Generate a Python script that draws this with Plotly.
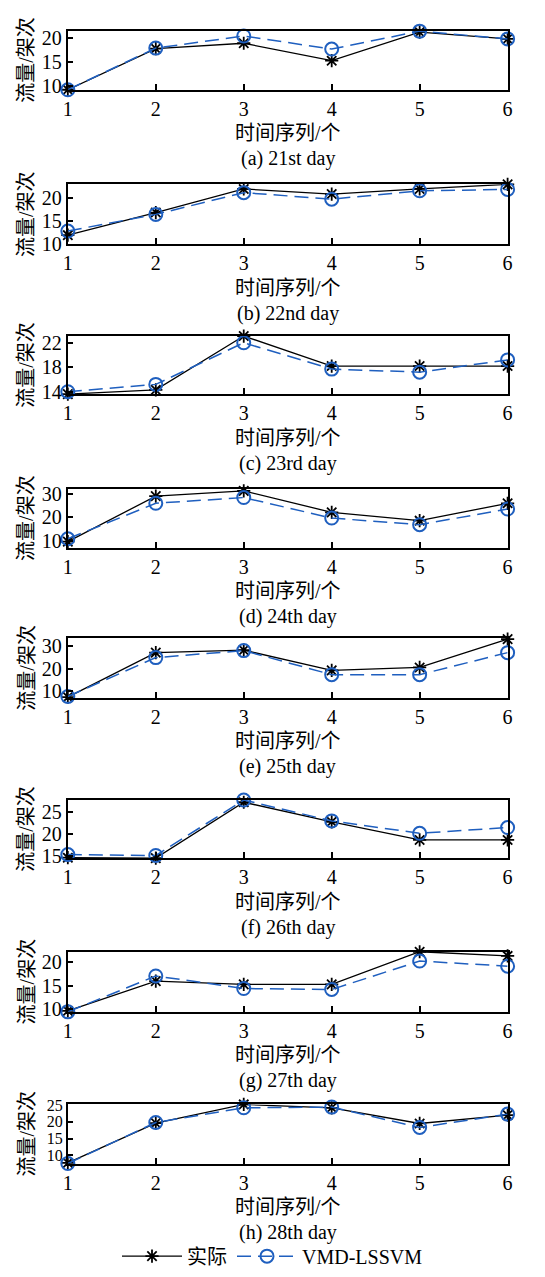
import plotly.graph_objects as go

# ---------------- data ----------------
x_steps = [1, 2, 3, 4, 5, 6]

captions = ["(a) 21st day", "(b) 22nd day", "(c) 23rd day", "(d) 24th day",
            "(e) 25th day", "(f) 26th day", "(g) 27th day", "(h) 28th day"]

actual_a = [9.3, 17.8, 18.9, 15.3, 21.2, 19.8]
pred_a = [9.3, 17.9, 20.4, 17.7, 21.4, 19.8]

actual_b = [12.0, 16.9, 22.0, 20.9, 22.0, 23.0]
pred_b = [12.9, 16.5, 21.2, 19.8, 21.6, 21.9]

actual_c = [13.6, 14.3, 23.1, 18.2, 18.2, 18.2]
pred_c = [14.0, 15.2, 22.0, 17.7, 17.2, 19.2]

actual_d = [9.8, 28.9, 31.1, 22.1, 18.6, 25.9]
pred_d = [11.0, 25.9, 28.3, 19.7, 16.9, 23.5]

actual_e = [7.3, 27.1, 28.2, 19.2, 20.5, 33.1]
pred_e = [7.6, 24.9, 28.0, 17.3, 17.3, 27.1]

actual_f = [14.7, 14.6, 27.2, 22.8, 18.7, 18.7]
pred_f = [15.4, 15.2, 27.7, 23.0, 20.2, 21.5]

actual_g = [9.6, 16.0, 15.3, 15.3, 22.3, 21.4]
pred_g = [9.4, 17.1, 14.4, 14.2, 20.3, 19.2]

actual_h = [7.7, 19.6, 25.2, 24.2, 19.5, 22.0]
pred_h = [7.5, 19.8, 24.2, 24.4, 18.3, 22.3]

y_ranges = [[9.3, 21.5], [10, 23], [13.6, 23.1], [7.2, 32],
            [7.1, 33.4], [14.6, 27.7], [9.4, 22.3], [7.5, 25.2]]
y_ticks = [[10, 15, 20], [10, 15, 20], [14, 18, 22], [10, 20, 30],
           [10, 20, 30], [15, 20, 25], [10, 15, 20], [10, 15, 20, 25]]

actual_all = [actual_a, actual_b, actual_c, actual_d, actual_e, actual_f, actual_g, actual_h]
pred_all = [pred_a, pred_b, pred_c, pred_d, pred_e, pred_f, pred_g, pred_h]

# ---------------- layout geometry (pixels) ----------------
W, H = 545, 1277
x_left, x_right = 64, 512
tops = [23, 179, 333, 488, 640, 804, 958, 1113]
bottoms = [83, 240, 392, 548, 700, 863, 1019, 1173]
ytick_sizes = [20, 20, 20, 20, 20, 20, 20, 16]

FONT = "Liberation Serif, 'Noto Sans CJK SC', serif"
FS = 20
BLUE = "#1f5fbf"


def py(p):
    return 1 - p / H


fig = go.Figure()
layout = dict(
    width=W, height=H,
    margin=dict(l=0, r=0, t=0, b=0),
    paper_bgcolor="white", plot_bgcolor="white",
    font=dict(family=FONT, size=FS, color="black"),
    showlegend=True,
    legend=dict(orientation="h", x=0.5, xanchor="center", y=py(1267), yanchor="middle",
                font=dict(family=FONT, size=FS, color="black"), itemwidth=60,
                bgcolor="rgba(0,0,0,0)"),
)
annotations = []

for i in range(8):
    k = "" if i == 0 else str(i + 1)
    xa, ya = "x" + k, "y" + k
    fig.add_trace(go.Scatter(
        x=x_steps, y=actual_all[i], xaxis=xa, yaxis=ya, mode="lines+markers",
        name="实际", showlegend=(i == 0), cliponaxis=False,
        line=dict(color="black", width=1.3),
        marker=dict(symbol="asterisk-open", size=11, color="black",
                    line=dict(color="black", width=1.8)),
    ))
    fig.add_trace(go.Scatter(
        x=x_steps, y=pred_all[i], xaxis=xa, yaxis=ya, mode="lines+markers",
        name="VMD-LSSVM", showlegend=(i == 0), cliponaxis=False,
        line=dict(color=BLUE, width=1.5, dash="14px,7px"),
        marker=dict(symbol="circle-open", size=13, color=BLUE,
                    line=dict(color=BLUE, width=2)),
    ))
    layout["xaxis" + k] = dict(
        domain=[x_left / W, x_right / W], anchor=ya, range=[1, 6],
        tickvals=x_steps, ticks="inside", ticklen=6, tickwidth=1.5, tickcolor="black",
        showline=True, linewidth=2, linecolor="black", mirror=True,
        showgrid=False, zeroline=False,
        tickfont=dict(family=FONT, size=FS, color="black"),
    )
    layout["yaxis" + k] = dict(
        domain=[py(bottoms[i]), py(tops[i])], anchor=xa, range=y_ranges[i],
        tickvals=y_ticks[i], ticks="inside", ticklen=5, tickwidth=1.5,
        tickcolor="black", showline=True, linewidth=2, linecolor="black", mirror=True,
        showgrid=False, zeroline=False,
        tickfont=dict(family=FONT, size=ytick_sizes[i], color="black"),
    )
    cx = (x_left + x_right) / 2 / W
    annotations.append(dict(text="时间序列/个", x=cx, y=py(bottoms[i] + 44), xref="paper",
                            yref="paper", showarrow=False, xanchor="center", yanchor="middle",
                            font=dict(family=FONT, size=FS, color="black")))
    annotations.append(dict(text=captions[i], x=cx, y=py(bottoms[i] + 70), xref="paper",
                            yref="paper", showarrow=False, xanchor="center", yanchor="middle",
                            font=dict(family=FONT, size=FS, color="black")))
    annotations.append(dict(text="流量/架次", x=22 / W, y=py((tops[i] + bottoms[i]) / 2),
                            xref="paper", yref="paper", showarrow=False, textangle=-90,
                            xanchor="center", yanchor="middle",
                            font=dict(family=FONT, size=FS, color="black")))

layout["annotations"] = annotations
fig.update_layout(**layout)
fig.write_html("out.html")
